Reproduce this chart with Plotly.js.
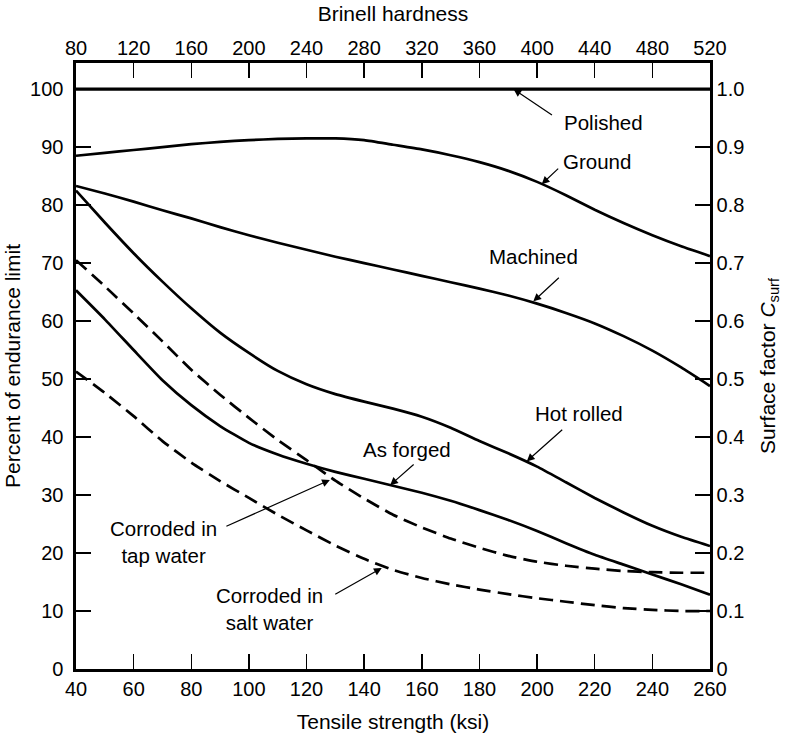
<!DOCTYPE html>
<html>
<head>
<meta charset="utf-8">
<script src="https://cdn.plot.ly/plotly-3.0.1.min.js"></script>
<style>
html,body{margin:0;padding:0;background:#fff;}
#chart{width:787px;height:737px;}
</style>
</head>
<body>
<div id="chart"></div>
<script>
// Tensile strength (ksi) sample points
const ksi = [40,50,60,70,80,90,100,110,120,130,140,150,160,170,180,190,200,210,220,230,240,250,260];
// Percent of endurance limit for each surface finish
const polished   = [100,100,100,100,100,100,100,100,100,100,100,100,100,100,100,100,100,100,100,100,100,100,100];
const ground     = [88.5,89.0,89.5,90.0,90.5,90.9,91.2,91.4,91.5,91.5,91.2,90.4,89.6,88.6,87.4,85.9,84.0,81.7,79.2,76.9,74.8,72.9,71.2];
const machined   = [83.3,82.0,80.6,79.1,77.7,76.2,74.8,73.5,72.3,71.1,70.0,68.9,67.8,66.7,65.6,64.4,63.0,61.4,59.6,57.4,54.9,52.0,48.8];
const hotRolled  = [82.5,77.0,71.7,66.8,62.2,58.0,54.5,51.4,49.1,47.4,46.1,44.9,43.5,41.6,39.3,37.2,34.9,32.2,29.5,27.0,24.7,22.8,21.2];
const asForged   = [65.3,60.3,55.0,49.8,45.5,41.9,39.0,37.0,35.4,34.0,32.8,31.6,30.4,29.0,27.4,25.7,23.8,21.7,19.7,18.0,16.3,14.6,12.8];
const tapWater   = [70.5,66.0,61.3,56.5,51.6,47.3,43.3,39.5,36.0,32.5,29.4,26.6,24.4,22.5,20.9,19.5,18.5,17.8,17.3,16.9,16.7,16.6,16.6];
const saltWater  = [51.3,47.6,43.6,39.3,35.6,32.4,29.5,26.6,23.9,21.3,19.0,17.1,15.7,14.6,13.7,12.9,12.2,11.6,11.0,10.5,10.2,10.0,10.0];

// Axis ticks
const ksiTicks = [40,60,80,100,120,140,160,180,200,220,240,260];
const brinellTicks = [80,120,160,200,240,280,320,360,400,440,480,520];
const pctTicks = [0,10,20,30,40,50,60,70,80,90,100];
const factorTicks = [0,0.1,0.2,0.3,0.4,0.5,0.6,0.7,0.8,0.9,1.0];
const factorText = ['0','0.1','0.2','0.3','0.4','0.5','0.6','0.7','0.8','0.9','1.0'];

// Labels: text, text position, arrow tip, arrow tail offset (px)
const labels = [
  {text:'Polished', tx:223.1, ty:94.3, px:191.8, py:100, ax:40, ay:27},
  {text:'Ground', tx:220.7, ty:87.6, px:201.6, py:83.6, ax:18, ay:-17},
  {text:'Machined', tx:198.9, ty:71.2, px:198.7, py:63.4, ax:27, ay:-25},
  {text:'Hot rolled', tx:214.5, ty:44.1, px:196.4, py:35.8, ax:37, ay:-33},
  {text:'As forged', tx:155.0, ty:37.9, px:149.0, py:31.7, ax:25, ay:-22},
  {text:'Corroded in<br>tap water', tx:70.3, ty:21.9, px:128.1, py:32.6, ax:-105, ay:47},
  {text:'Corroded in<br>salt water', tx:107.0, ty:10.3, px:146.1, py:17.4, ax:-48, ay:27}
];

const FONT = 'Liberation Sans, Arial, Helvetica, sans-serif';
const solid = (y, w) => ({x: ksi, y: y, mode:'lines', line:{color:'#000', width:w, shape:'spline', smoothing:0.5}, hoverinfo:'skip', showlegend:false});
const dashed = (y) => ({x: ksi, y: y, mode:'lines', line:{color:'#000', width:2.7, dash:'14px,7px', shape:'spline', smoothing:0.5}, hoverinfo:'skip', showlegend:false});

const traces = [
  solid(polished, 3.2),
  solid(ground, 2.7),
  solid(machined, 2.7),
  solid(hotRolled, 2.7),
  solid(asForged, 2.7),
  dashed(tapWater),
  dashed(saltWater),
  // registers the secondary (Brinell / surface factor) axes; draws nothing
  {x: brinellTicks, y: factorTicks, xaxis:'x2', yaxis:'y2', mode:'none', hoverinfo:'skip', showlegend:false}
];

const annotations = [];
labels.forEach(l => {
  annotations.push({x:l.tx, y:l.ty, xref:'x', yref:'y', text:l.text, showarrow:false,
    xanchor:'center', yanchor:'middle', align:'center', font:{family:FONT, size:20.5, color:'#000'}});
  annotations.push({x:l.px, y:l.py, xref:'x', yref:'y', text:'', showarrow:true,
    ax:l.ax, ay:l.ay, arrowhead:2, arrowsize:1.3, arrowwidth:1.2, arrowcolor:'#000', standoff:0, startstandoff:0});
});

const axisCommon = {
  showgrid:false, zeroline:false, showline:true, linecolor:'#000', linewidth:2.6,
  ticks:'inside', ticklen:15, tickwidth:1.5, tickcolor:'#000',
  tickfont:{family:FONT, size:20, color:'#000'}, fixedrange:true
};

const layout = {
  width:787, height:737,
  margin:{l:76, r:77, t:63, b:68, pad:0},
  paper_bgcolor:'#fff', plot_bgcolor:'#fff',
  font:{family:FONT, color:'#000'},
  xaxis: Object.assign({}, axisCommon, {
    range:[40,260], tickvals:ksiTicks, ticktext:ksiTicks.map(String),
    ticklabelstandoff:0,
    title:{text:'Tensile strength (ksi)', font:{family:FONT, size:21, color:'#000'}, standoff:16}
  }),
  xaxis2: Object.assign({}, axisCommon, {
    range:[80,520], tickvals:brinellTicks, ticktext:brinellTicks.map(String),
    overlaying:'x', side:'top', anchor:'y',
    ticklabelstandoff:-3,
    title:{text:'Brinell hardness', font:{family:FONT, size:21, color:'#000'}, standoff:10}
  }),
  yaxis: Object.assign({}, axisCommon, {
    range:[0,104.5], tickvals:pctTicks, ticktext:pctTicks.map(String),
    ticklabelstandoff:6,
    title:{text:'Percent of endurance limit', font:{family:FONT, size:21, color:'#000'}, standoff:4}
  }),
  yaxis2: Object.assign({}, axisCommon, {
    range:[0,1.045], tickvals:factorTicks, ticktext:factorText,
    overlaying:'y', side:'right', anchor:'x',
    ticklabelstandoff:0,
    title:{text:'Surface factor <i>C</i><sub>surf</sub>', font:{family:FONT, size:21, color:'#000'}, standoff:17}
  }),
  annotations: annotations
};

Plotly.newPlot('chart', traces, layout, {staticPlot:true, displayModeBar:false});
</script>
</body>
</html>
